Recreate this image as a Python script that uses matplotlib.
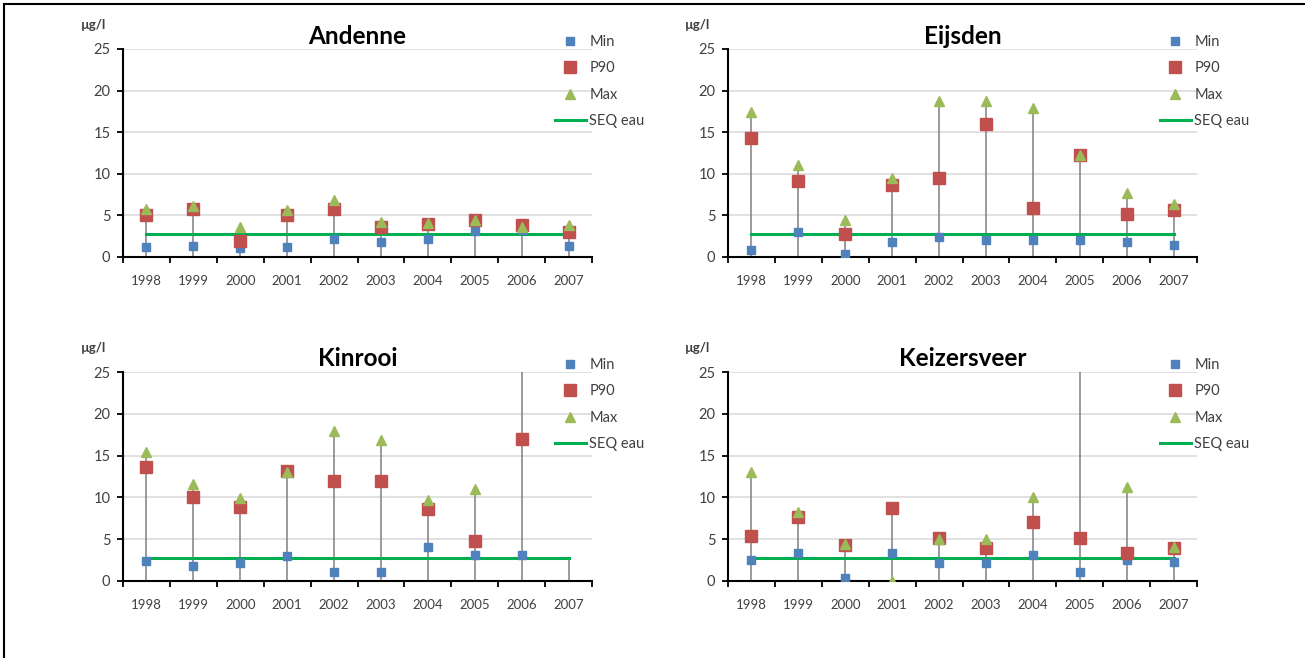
import numpy as np
import matplotlib
matplotlib.use("Agg")
import matplotlib.pyplot as plt
from matplotlib.lines import Line2D

plt.rcParams["font.family"] = ["Lato", "DejaVu Sans"]

years = ["1998", "1999", "2000", "2001", "2002", "2003", "2004", "2005", "2006", "2007"]
y_ticks = [0, 5, 10, 15, 20, 25]
seq_eau = 2.75
nan = np.nan

andenne_min = [1.25, 1.3, 1.1, 1.2, 2.2, 1.85, 2.15, 3.1, 3.2, 1.3]
andenne_p90 = [5.1, 5.8, 1.9, 5.0, 5.8, 3.6, 4.0, 4.45, 3.9, 3.0]
andenne_max = [5.8, 6.1, 3.6, 5.6, 6.9, 4.2, 4.1, 4.5, 3.6, 3.9]

eijsden_min = [0.9, 2.95, 0.4, 1.75, 2.4, 2.0, 2.05, 2.05, 1.8, 1.5]
eijsden_p90 = [14.35, 9.15, 2.8, 8.7, 9.45, 15.95, 5.9, 12.2, 5.2, 5.7]
eijsden_max = [17.4, 11.0, 4.4, 9.45, 18.8, 18.8, 17.85, 12.3, 7.75, 6.35]

kinrooi_min = [2.45, 1.85, 2.1, 3.0, 1.05, 1.05, 4.05, 3.1, 3.1, nan]
kinrooi_p90 = [13.6, 10.05, 8.9, 13.1, 12.0, 12.0, 8.6, 4.8, 17.0, nan]
kinrooi_max = [15.4, 11.6, 9.9, 13.0, 17.9, 16.9, 9.7, 11.0, 30.0, nan]

keizersveer_min = [2.5, 3.4, 0.3, 3.3, 2.1, 2.1, 3.1, 1.1, 2.5, 2.3]
keizersveer_p90 = [5.35, 7.6, 4.3, 8.7, 5.1, 4.0, 7.0, 5.1, 3.35, 3.9]
keizersveer_max = [13.0, 8.3, 4.4, 0.0, 5.0, 5.0, 10.0, 30.0, 11.2, 4.1]

W, H = 1305, 658
fig = plt.figure(figsize=(W / 100, H / 100), dpi=100)


def px_rect(left, top, right, bottom):
    return [left / W, 1 - bottom / H, (right - left) / W, (bottom - top) / H]


panels = [
    ("Andenne", andenne_min, andenne_p90, andenne_max, px_rect(123, 49, 592, 257)),
    ("Eijsden", eijsden_min, eijsden_p90, eijsden_max, px_rect(728, 49, 1197, 257)),
    ("Kinrooi", kinrooi_min, kinrooi_p90, kinrooi_max, px_rect(123, 372, 592, 581)),
    ("Keizersveer", keizersveer_min, keizersveer_p90, keizersveer_max, px_rect(728, 372, 1197, 581)),
]

TEXT_GREY = "#404040"

for title, mins, p90s, maxs, rect in panels:
    ax = fig.add_axes(rect)
    n = len(years)
    x = np.arange(n)
    mins = np.asarray(mins, dtype=float)
    p90s = np.asarray(p90s, dtype=float)
    maxs = np.asarray(maxs, dtype=float)
    seq = np.full(n, seq_eau)

    ax.set_xlim(-0.5, n - 0.5)
    ax.set_ylim(0, 25)
    ax.set_yticks(y_ticks)
    ax.yaxis.grid(True, color="#D9D9D9", lw=1.1)
    ax.set_axisbelow(True)

    # drop lines from the highest value of each year down to the axis
    tops = np.nanmax(np.vstack([mins, p90s, maxs, seq]), axis=0)
    ax.vlines(x, 0, tops, color="#808080", lw=1.1, zorder=2)

    h_seq, = ax.plot(x, seq, color="#00B050", lw=2.2, zorder=3, label="SEQ eau")
    h_min, = ax.plot(x, mins, "s", color="#4F81BD", ms=5.5, ls="none", zorder=4, label="Min")
    h_p90, = ax.plot(x, p90s, "s", color="#C0504D", ms=8, ls="none", zorder=5, label="P90")
    h_max, = ax.plot(x, maxs, "^", color="#9BBB59", ms=7.5, ls="none", zorder=6, label="Max")

    for side in ("top", "right"):
        ax.spines[side].set_visible(False)
    for side in ("left", "bottom"):
        ax.spines[side].set_color("#000000")
        ax.spines[side].set_linewidth(1.5)

    ax.set_xticks(x)
    ax.set_xticklabels(years)
    ax.set_xticks(np.arange(-0.5, n, 1.0), minor=True)
    ax.tick_params(axis="x", which="major", length=0, pad=13, labelsize=9.5, labelcolor=TEXT_GREY)
    ax.tick_params(axis="x", which="minor", length=4, width=1.3, direction="out", color="#000000")
    ax.tick_params(axis="y", length=4, width=1.3, direction="out", pad=5, labelsize=10.5,
                   labelcolor=TEXT_GREY, color="#000000")

    ah = rect[3] * H
    aw = rect[2] * W
    ax.text(0.5, 1 + 13 / ah, title, transform=ax.transAxes, ha="center", va="center",
            fontsize=17.5, fontweight="bold", color="#000000")
    ax.text(-30 / aw, 1 + 24 / ah, "µg/l", transform=ax.transAxes, ha="center", va="center",
            fontsize=9.5, fontweight="bold", color=TEXT_GREY)

    ax.legend(handles=[h_min, h_p90, h_max, h_seq], loc="upper left",
              bbox_to_anchor=(0.921, 1 + 14 / ah), frameon=False, fontsize=10.5,
              handlelength=2.1, handletextpad=0.25, labelspacing=0.85, borderpad=0,
              borderaxespad=0, labelcolor=TEXT_GREY)

# page frame on the left and top edges
fig.add_artist(Line2D([4 / W, 4 / W], [0, 1 - 4 / H], color="#000000", lw=1.5))
fig.add_artist(Line2D([4 / W, 1], [1 - 4 / H, 1 - 4 / H], color="#000000", lw=1.5))

fig.savefig("out.png", dpi=100)
